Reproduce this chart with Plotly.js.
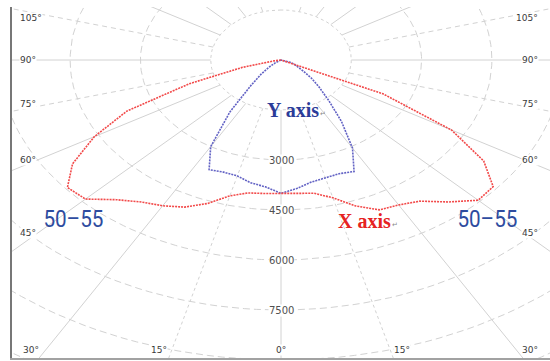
<!DOCTYPE html>
<html>
<head>
<meta charset="utf-8">
<script src="https://cdn.plot.ly/plotly-3.0.1.min.js"></script>
<style>
  html, body { margin: 0; padding: 0; background: #fff; }
  #chart { width: 550px; height: 361px; }
</style>
</head>
<body>
<div id="chart"></div>
<script>
// Gamma angles (degrees from nadir) for the luminous intensity tables
const gamma = [0, 5, 10, 15, 20, 25, 30, 35, 40, 45, 50, 55, 60, 65, 70, 75, 80, 85, 90];

// X axis plane, candela: left half (C180) and right half (C0)
const xAxisLeft  = [4000, 4020, 4050, 4220, 4580, 4870, 5050, 5200, 5470, 5900, 5950, 5430, 4600, 3630, 2080, 850, 150, 0, 0];
const xAxisRight = [4000, 4030, 4060, 4280, 4660, 4960, 5020, 5170, 5560, 5950, 5910, 5280, 4200, 2400, 100, 0, 0, 0, 0];

// Y axis plane, candela: left half (C270) and right half (C90)
const yAxisLeft  = [4000, 3820, 3740, 3600, 3580, 3630, 3000, 1900, 1000, 600, 330, 150, 60, 0, 0, 0, 0, 0, 0];
const yAxisRight = [4000, 3870, 3720, 3660, 3630, 3690, 3050, 2250, 1580, 1150, 850, 580, 420, 320, 230, 120, 40, 0, 0];

// Polar grid
const ringValues = [1500, 3000, 4500, 6000, 7500, 9000, 10500, 12000, 13500, 15000];
const rayAngles = [0, 15, 30, 45, 60, 75, 90, 105, 120, 135, 150, 165];
const radialTickValues = [3000, 4500, 6000, 7500];
const sideAngleLabels = ['105°', '90°', '75°', '60°', '45°'];
const bottomAngleLabels = ['30°', '15°', '0°', '15°', '30°'];
const beamLabel = '50–55';

// Plot frame (pixels) and scales
const W = 550, H = 361;
const M = { l: 12, r: 0, t: 7, b: 3 };
const X_RANGE = [-5740, 5740];
const Y_RANGE = [-8940, 1590];

const rad = d => d * Math.PI / 180;
// side = -1 draws on the left half, +1 on the right half
function polarXY(angles, values, side) {
  return {
    x: angles.map((a, i) => side * values[i] * Math.sin(rad(a))),
    y: angles.map((a, i) => -values[i] * Math.cos(rad(a)))
  };
}

// Pixel position -> paper fraction for text placement
const plotW = W - M.l - M.r, plotH = H - M.t - M.b;
const pX = px => (px - M.l) / plotW;
const pY = py => (H - M.b - py) / plotH;

const traces = [];
const gridColor = '#d2d2d2';

// Rings
const circleAngles = [];
for (let a = -180; a <= 180; a += 2) circleAngles.push(a);
ringValues.forEach(r => {
  const pts = polarXY(circleAngles, circleAngles.map(() => r), 1);
  traces.push({
    type: 'scatter', mode: 'lines', x: pts.x, y: pts.y,
    line: { color: gridColor, width: 1, dash: r === 1500 ? '3px,3px' : '7px,4px' },
    hoverinfo: 'skip', showlegend: false
  });
});

// Rays from the inner ring outward
const rayDash = { 0: 'solid', 15: 'dot', 75: '5px,4px', 105: '5px,4px' };
rayAngles.forEach(a => {
  [-1, 1].forEach(side => {
    if (a === 0 && side === 1) return;
    const pts = polarXY([a, a], [1500, 16000], side);
    traces.push({
      type: 'scatter', mode: 'lines', x: pts.x, y: pts.y,
      line: { color: gridColor, width: 1, dash: rayDash[a] || 'solid' },
      hoverinfo: 'skip', showlegend: false
    });
  });
});

// Builds a continuous curve: left half from 90° down to nadir, then right half up to 90°
function planeCurve(leftVals, rightVals) {
  const L = polarXY(gamma, leftVals, -1);
  const R = polarXY(gamma, rightVals, 1);
  return {
    x: L.x.slice().reverse().concat(R.x.slice(1)),
    y: L.y.slice().reverse().concat(R.y.slice(1))
  };
}

const yCurve = planeCurve(yAxisLeft, yAxisRight);
traces.push({
  type: 'scatter', mode: 'lines', x: yCurve.x, y: yCurve.y, name: 'Y axis',
  line: { color: '#6262c4', width: 1.6, dash: '2px,1px' },
  hoverinfo: 'skip', showlegend: false
});

const xCurve = planeCurve(xAxisLeft, xAxisRight);
traces.push({
  type: 'scatter', mode: 'lines', x: xCurve.x, y: xCurve.y, name: 'X axis',
  line: { color: '#f24a4a', width: 1.6, dash: '2px,1px' },
  hoverinfo: 'skip', showlegend: false
});

const annotations = [];
const labelFont = { family: 'DejaVu Sans, Verdana, sans-serif', size: 9, color: '#3a3a3a' };

// Radial intensity labels on the nadir line
radialTickValues.forEach(v => {
  annotations.push({
    x: 0, y: -v, xref: 'x', yref: 'y', text: String(v), showarrow: false,
    font: { family: 'DejaVu Sans, Verdana, sans-serif', size: 10, color: '#505050' },
    bgcolor: '#ffffff', borderpad: 0, xanchor: 'center', yanchor: 'middle'
  });
});

// Angle labels along left and right edges
const sideLabelY = [18, 60, 104, 160, 233];
sideAngleLabels.forEach((t, i) => {
  annotations.push({ x: pX(19), y: pY(sideLabelY[i]), xref: 'paper', yref: 'paper', text: t,
    showarrow: false, font: labelFont, bgcolor: '#ffffff', borderpad: 0, xanchor: 'left', yanchor: 'middle' });
  annotations.push({ x: pX(539), y: pY(sideLabelY[i]), xref: 'paper', yref: 'paper', text: t,
    showarrow: false, font: labelFont, bgcolor: '#ffffff', borderpad: 0, xanchor: 'right', yanchor: 'middle' });
});

// Angle labels along the bottom edge
const bottomLabelX = [31, 159, 281, 402, 530];
bottomAngleLabels.forEach((t, i) => {
  annotations.push({ x: pX(bottomLabelX[i]), y: pY(350), xref: 'paper', yref: 'paper', text: t,
    showarrow: false, font: labelFont, bgcolor: '#ffffff', borderpad: 0, xanchor: 'center', yanchor: 'middle' });
});

// Plane names
const serifBold = 'Liberation Serif, Times New Roman, serif';
annotations.push({ x: pX(293), y: pY(110), xref: 'paper', yref: 'paper', text: '<b>Y axis</b>',
  showarrow: false, font: { family: serifBold, size: 20, color: '#2b3c99' }, xanchor: 'center', yanchor: 'middle' });
annotations.push({ x: pX(323), y: pY(114), xref: 'paper', yref: 'paper', text: '↵',
  showarrow: false, font: { family: 'DejaVu Sans, sans-serif', size: 7, color: '#8a8a8a' }, xanchor: 'center', yanchor: 'middle' });
annotations.push({ x: pX(364), y: pY(221), xref: 'paper', yref: 'paper', text: '<b>X axis</b>',
  showarrow: false, font: { family: serifBold, size: 20, color: '#e62222' }, xanchor: 'center', yanchor: 'middle' });
annotations.push({ x: pX(395), y: pY(225), xref: 'paper', yref: 'paper', text: '↵',
  showarrow: false, font: { family: 'DejaVu Sans, sans-serif', size: 7, color: '#8a8a8a' }, xanchor: 'center', yanchor: 'middle' });

// Beam angle range on both sides
const beamFont = { family: 'Roboto, Liberation Sans, sans-serif', size: 23, color: '#2e4c9f' };
annotations.push({ x: pX(73.5), y: pY(219.5), xref: 'paper', yref: 'paper', text: beamLabel,
  showarrow: false, font: beamFont, borderpad: 0, xanchor: 'center', yanchor: 'middle' });
annotations.push({ x: pX(487), y: pY(219.5), xref: 'paper', yref: 'paper', text: beamLabel,
  showarrow: false, font: beamFont, borderpad: 0, xanchor: 'center', yanchor: 'middle' });

const layout = {
  width: W, height: H,
  margin: M,
  paper_bgcolor: '#ffffff', plot_bgcolor: '#ffffff',
  showlegend: false,
  xaxis: { range: X_RANGE, showgrid: false, zeroline: false, showticklabels: false, ticks: '',
           showline: true, linecolor: '#a2a2a2', linewidth: 2, fixedrange: true },
  yaxis: { range: Y_RANGE, showgrid: false, zeroline: false, showticklabels: false, ticks: '',
           showline: true, linecolor: '#777777', linewidth: 2, fixedrange: true },
  annotations: annotations
};

Plotly.newPlot('chart', traces, layout, { staticPlot: true, displayModeBar: false }).then(gd => {
  // The beam range is set in a condensed face: squeeze its glyphs to a narrow width
  gd.querySelectorAll('text.annotation-text').forEach(el => {
    if (el.textContent === beamLabel) {
      el.setAttribute('textLength', '60');
      el.setAttribute('lengthAdjust', 'spacingAndGlyphs');
    }
  });
});
</script>
</body>
</html>
